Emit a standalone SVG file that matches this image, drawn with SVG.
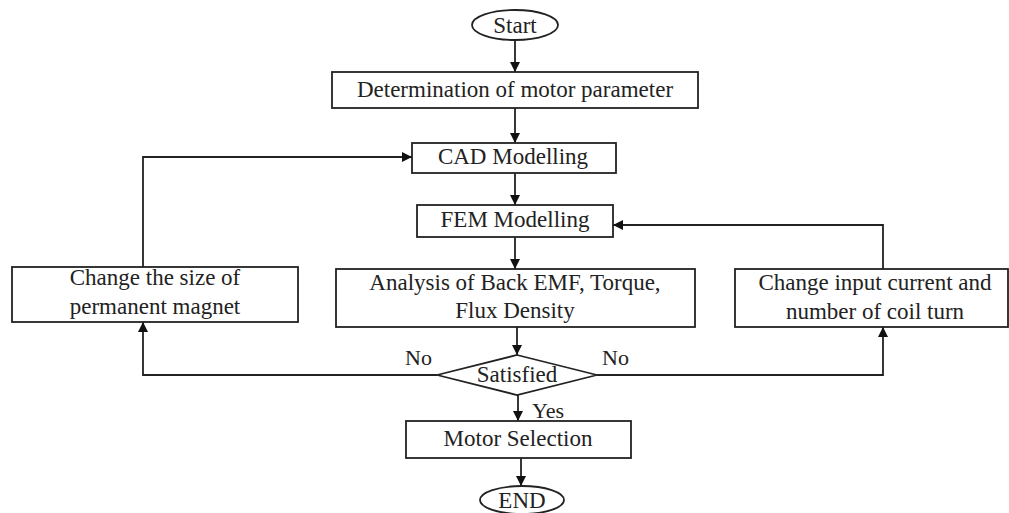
<svg xmlns="http://www.w3.org/2000/svg" width="1009" height="513" viewBox="0 0 1009 513">
<style>
.box{fill:#fff;stroke:#222;stroke-width:1.8}
.t{font-family:'Liberation Serif','Tinos','DejaVu Serif',serif;font-size:23px;fill:#222;text-anchor:middle}
.l{font-family:'Liberation Serif','Tinos','DejaVu Serif',serif;font-size:22px;fill:#222}
.c{fill:none;stroke:#222;stroke-width:1.8}
</style>
<defs>
<marker id="ah" viewBox="0 0 10 10" refX="10" refY="5" markerWidth="10" markerHeight="10" markerUnits="userSpaceOnUse" orient="auto">
<path d="M0,0 L10,5 L0,10 z" fill="#111"/>
</marker>
</defs>
<rect width="1009" height="513" fill="#fff"/>
<g id="connectors">
<path class="c" d="M515,40 V72" marker-end="url(#ah)"/>
<path class="c" d="M515,108 V143" marker-end="url(#ah)"/>
<path class="c" d="M515,173 V205" marker-end="url(#ah)"/>
<path class="c" d="M515,237 V269" marker-end="url(#ah)"/>
<path class="c" d="M517,327 V355" marker-end="url(#ah)"/>
<path class="c" d="M518,395 V421" marker-end="url(#ah)"/>
<path class="c" d="M521,458 V486" marker-end="url(#ah)"/>
<path class="c" d="M143,267 V157 H412" marker-end="url(#ah)"/>
<path class="c" d="M437,375 H143 V322" marker-end="url(#ah)"/>
<path class="c" d="M597,375 H883 V327" marker-end="url(#ah)"/>
<path class="c" d="M883,269 V225 H613" marker-end="url(#ah)"/>
<text class="l" x="405" y="365">No</text>
<text class="l" x="602" y="365">No</text>
<text class="l" x="532" y="418">Yes</text>
</g>
<g id="start">
<ellipse class="box" cx="515" cy="25" rx="43" ry="15"/>
<text class="t" x="515" y="33">Start</text>
</g>
<g id="determination">
<rect class="box" x="332" y="72" width="366" height="36"/>
<text class="t" x="515" y="97">Determination of motor parameter</text>
</g>
<g id="cad">
<rect class="box" x="412" y="143" width="204" height="30"/>
<text class="t" x="513" y="164">CAD Modelling</text>
</g>
<g id="fem">
<rect class="box" x="417" y="205" width="196" height="32"/>
<text class="t" x="515" y="227">FEM Modelling</text>
</g>
<g id="analysis">
<rect class="box" x="336" y="269" width="359" height="58"/>
<text class="t" x="515" y="290">Analysis of Back EMF, Torque,</text>
<text class="t" x="515" y="318">Flux Density</text>
</g>
<g id="change-magnet">
<rect class="box" x="12" y="267" width="286" height="55"/>
<text class="t" x="155" y="285">Change the size of</text>
<text class="t" x="155" y="314">permanent magnet</text>
</g>
<g id="change-current">
<rect class="box" x="735" y="269" width="273" height="58"/>
<text class="t" x="875" y="290">Change input current and</text>
<text class="t" x="875" y="319">number of coil turn</text>
</g>
<g id="satisfied">
<polygon class="box" points="517,355 597,375 517,395 437,375"/>
<text class="t" x="517" y="382">Satisfied</text>
</g>
<g id="motor-selection">
<rect class="box" x="406" y="421" width="225" height="37"/>
<text class="t" x="518" y="446">Motor Selection</text>
</g>
<g id="end">
<ellipse class="box" cx="522" cy="500" rx="42" ry="14"/>
<text class="t" x="522" y="508">END</text>
</g>
</svg>
